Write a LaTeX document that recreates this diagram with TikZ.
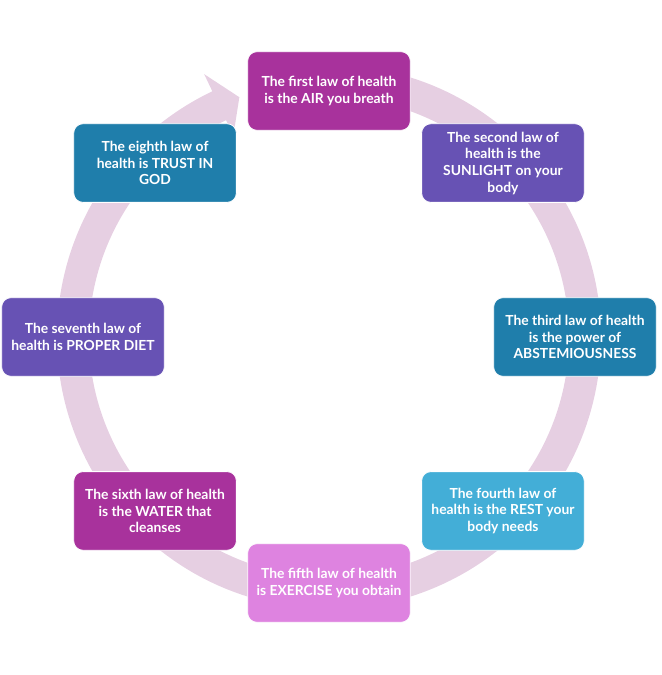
\documentclass[tikz,border=0pt]{standalone}
\usepackage{fontspec}
\setmainfont{Lato}
\definecolor{lawmagenta}{HTML}{A8329C}
\definecolor{lawpurple}{HTML}{6752B4}
\definecolor{lawteal}{HTML}{1F7EAB}
\definecolor{lawsky}{HTML}{43AED7}
\definecolor{laworchid}{HTML}{DE83E0}
\definecolor{ringpink}{HTML}{E6CFE2}
\tikzset{
  law/.style={rounded corners=7pt, draw=white, line width=0.6pt, text=white,
    minimum width=122pt, minimum height=59pt, inner sep=2pt, align=center,
    font=\bfseries\fontsize{10.4}{12.5}\selectfont}
}
\begin{document}
\begin{tikzpicture}[x=0.75pt,y=0.75pt]
      \useasboundingbox (-329,-338) rectangle (332,337);
      \fill[ringpink] (80:272) arc[start angle=80, end angle=-244.6, radius=272]
        -- (-244.6:291) -- (-249.5:256) -- (-244.6:223) -- (-244.6:240)
        arc[start angle=-244.6, end angle=80, radius=240] -- cycle;
      \draw
        (90:246) node[law, fill=lawmagenta] (1){The first law of health\\is the AIR you breath}
        (45:246) node[law, fill=lawpurple] (2){The second law of\\health is the\\SUNLIGHT on your\\body}
        (0:246) node[law, fill=lawteal] (3){The third law of health\\is the power of\\ABSTEMIOUSNESS}
        (-45:246) node[law, fill=lawsky] (4){The fourth law of\\health is the REST your\\body needs}
        (-90:246) node[law, fill=laworchid] (5){The fifth law of health\\is EXERCISE you obtain}
        (-135:246) node[law, fill=lawmagenta] (6){The sixth law of health\\is the WATER that\\cleanses}
        (180:246) node[law, fill=lawpurple] (7){The seventh law of\\health is PROPER DIET}
        (135:246) node[law, fill=lawteal] (8){The eighth law of\\health is TRUST IN\\GOD};
    \end{tikzpicture}
\end{document}
